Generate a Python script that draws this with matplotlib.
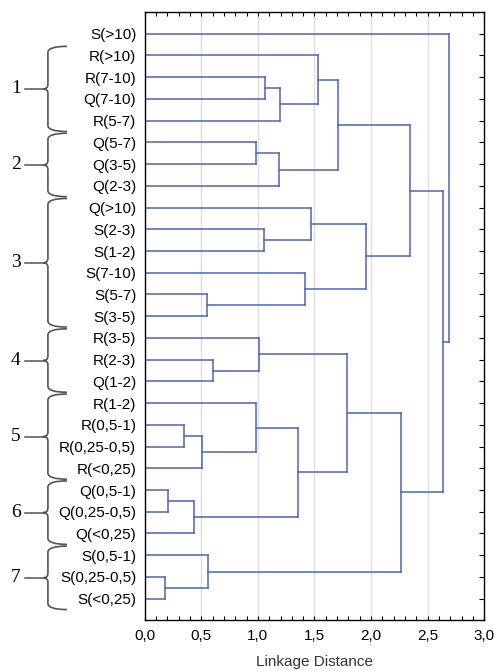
import matplotlib
matplotlib.use("Agg")
import matplotlib.pyplot as plt
from matplotlib.path import Path
from matplotlib.patches import PathPatch
from matplotlib.transforms import blended_transform_factory
import numpy as np

# leaves, top to bottom
leaves = ["S(>10)", "R(>10)", "R(7-10)", "Q(7-10)", "R(5-7)", "Q(5-7)", "Q(3-5)",
          "Q(2-3)", "Q(>10)", "S(2-3)", "S(1-2)", "S(7-10)", "S(5-7)", "S(3-5)",
          "R(3-5)", "R(2-3)", "Q(1-2)", "R(1-2)", "R(0,5-1)", "R(0,25-0,5)",
          "R(<0,25)", "Q(0,5-1)", "Q(0,25-0,5)", "Q(<0,25)", "S(0,5-1)",
          "S(0,25-0,5)", "S(<0,25)"]

# merges: (child a, child b, linkage distance); new clusters get ids 27, 28, ...
merges = [
    (2, 3, 1.062), (27, 4, 1.197), (1, 28, 1.527),
    (5, 6, 0.985), (30, 7, 1.183), (29, 31, 1.712),
    (9, 10, 1.053), (8, 33, 1.471), (12, 13, 0.547), (11, 35, 1.415),
    (34, 36, 1.953), (32, 37, 2.348),
    (15, 16, 0.606), (14, 39, 1.012),
    (18, 19, 0.344), (41, 20, 0.506), (17, 42, 0.980),
    (21, 22, 0.208), (44, 23, 0.435), (43, 45, 1.350), (40, 46, 1.791),
    (25, 26, 0.182), (24, 48, 0.561), (47, 49, 2.268),
    (38, 50, 2.635), (0, 51, 2.686),
]

# groups marked with braces: (label, first leaf, last leaf)
groups = [("1", 1, 4), ("2", 5, 7), ("3", 8, 13), ("4", 14, 16),
          ("5", 17, 20), ("6", 21, 23), ("7", 24, 26)]

xticks = [0.0, 0.5, 1.0, 1.5, 2.0, 2.5, 3.0]
xticklabels = ["0,0", "0,5", "1,0", "1,5", "2,0", "2,5", "3,0"]

plt.rcParams['font.family'] = ['Liberation Sans', 'DejaVu Sans']

fig = plt.figure(figsize=(4.94, 6.71), dpi=100)
ax = fig.add_axes([0.2929, 0.0754, 0.6874, 0.9067])

line_col = '#4f64b0'
n = len(leaves)
ypos = {i: i + 1.0 for i in range(n)}
height = {i: 0.0 for i in range(n)}
for k, (a, b, h) in enumerate(merges):
    cid = n + k
    ax.plot([height[a], h], [ypos[a], ypos[a]], color=line_col, lw=1.1)
    ax.plot([height[b], h], [ypos[b], ypos[b]], color=line_col, lw=1.1)
    ax.plot([h, h], [ypos[a], ypos[b]], color=line_col, lw=1.1)
    ypos[cid] = (ypos[a] + ypos[b]) / 2
    height[cid] = h

ax.set_xlim(0, 3.0)
ax.set_ylim(n + 1, 0)
ax.set_xticks(xticks)
ax.set_xticklabels(xticklabels)
ax.set_xticks(np.arange(0, 3.01, 0.1), minor=True)
ax.set_yticks(np.arange(1, n + 1))
ax.set_yticklabels(leaves)
ax.tick_params(axis='x', which='both', direction='in', top=True, bottom=True,
               length=3, width=0.8, labelsize=11, pad=6)
ax.tick_params(axis='y', which='both', direction='in', left=False, right=True,
               length=3.7, width=0.8, labelsize=11, pad=6)
for x in xticks[1:-1]:
    ax.axvline(x, color='#dedede', lw=1, zorder=0)
for s in ax.spines.values():
    s.set_linewidth(1)
    s.set_color('black')
ax.set_xlabel("Linkage Distance", fontsize=11, labelpad=8.5, color='#333333')

# braces on the left
trans = blended_transform_factory(ax.transAxes, ax.transData)
xe, xv, xt = -0.229, -0.285, -0.2995
r1, r2 = 0.28, 0.2
for lab, first, last in groups:
    top = ypos[first] - 0.42
    bot = ypos[last] + 0.5
    mid = (top + bot) / 2
    verts = [(xe, top), (xv, top), (xv, top + r1),
             (xv, mid - r2), (xv, mid), (xt, mid),
             (xv, mid), (xv, mid + r2),
             (xv, bot - r1), (xv, bot), (xe, bot)]
    codes = [Path.MOVETO, Path.CURVE3, Path.CURVE3,
             Path.LINETO, Path.CURVE3, Path.CURVE3,
             Path.CURVE3, Path.CURVE3,
             Path.LINETO, Path.CURVE3, Path.CURVE3]
    ax.add_patch(PathPatch(Path(verts, codes), transform=trans, fill=False,
                           edgecolor='#555555', lw=1.2, clip_on=False))
    ax.plot([-0.3525, xt], [mid, mid], color='#555555', lw=1.1,
            transform=trans, clip_on=False)
    ax.text(-0.379, mid, lab, transform=trans, ha='center', va='center',
            family='Liberation Serif', fontsize=14)

fig.savefig("out.png", dpi=100)
